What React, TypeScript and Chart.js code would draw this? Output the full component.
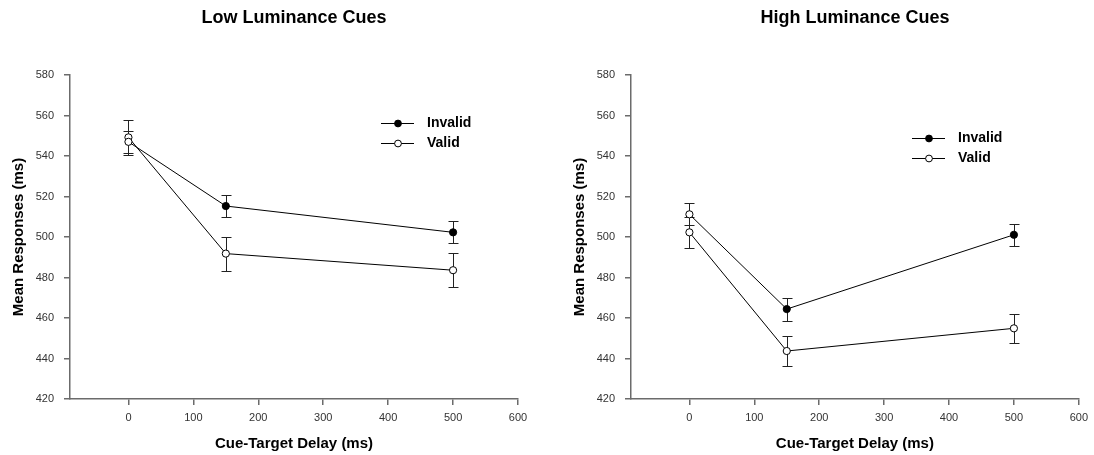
import React, { useEffect, useRef } from "react";
import { Chart, registerables } from "chart.js";

Chart.register(...registerables);

const delays = [0, 150, 500];
const xTickValues = [0, 100, 200, 300, 400, 500, 600];
const seriesNames = ["Invalid", "Valid"];

const lowInvalid = [547.0, 515.3, 502.3];
const lowInvalidErr = [5.5, 5.4, 5.4];
const lowValid = [549.2, 491.8, 483.6];
const lowValidErr = [8.8, 8.4, 8.5];

const highInvalid = [511.2, 464.4, 501.1];
const highInvalidErr = [5.5, 5.7, 5.5];
const highValid = [502.3, 443.7, 454.9];
const highValidErr = [7.5, 7.2, 7.3];

const FONT = "'Liberation Sans', Arial, Helvetica, sans-serif";
const AXIS_COLOR = "#6b6b6b";
const TICK_COLOR = "#333333";

const errorBarPlugin = {
  id: "errorBars",
  beforeDatasetsDraw(chart: any) {
    const ctx = chart.ctx;
    const xs = chart.scales.x;
    const ys = chart.scales.y;
    ctx.save();
    ctx.strokeStyle = "#222";
    ctx.lineWidth = 1;
    chart.data.datasets.forEach((ds: any) => {
      const errs: number[] = ds.errors || [];
      ds.data.forEach((pt: any, i: number) => {
        const e = errs[i];
        if (e == null) return;
        const px = Math.round(xs.getPixelForValue(pt.x)) + 0.5;
        const yTop = Math.round(ys.getPixelForValue(pt.y + e)) + 0.5;
        const yBot = Math.round(ys.getPixelForValue(pt.y - e)) + 0.5;
        ctx.beginPath();
        ctx.moveTo(px, yTop);
        ctx.lineTo(px, yBot);
        ctx.moveTo(px - 5, yTop);
        ctx.lineTo(px + 5, yTop);
        ctx.moveTo(px - 5, yBot);
        ctx.lineTo(px + 5, yBot);
        ctx.stroke();
      });
    });
    ctx.restore();
  },
};

const innerLegendPlugin = {
  id: "innerLegend",
  afterDatasetsDraw(chart: any, _args: any, opts: any) {
    const ctx = chart.ctx;
    const area = chart.chartArea;
    const x0 = area.left + opts.dx;
    const y0 = area.top + opts.dy;
    ctx.save();
    chart.data.datasets.forEach((ds: any, i: number) => {
      const y = Math.round(y0 + i * 20) + 0.5;
      ctx.strokeStyle = "#000";
      ctx.lineWidth = 1;
      ctx.beginPath();
      ctx.moveTo(x0, y);
      ctx.lineTo(x0 + 33, y);
      ctx.stroke();
      ctx.beginPath();
      ctx.arc(x0 + 17, y, 3.4, 0, Math.PI * 2);
      ctx.fillStyle = ds.legendFill;
      ctx.fill();
      ctx.stroke();
      ctx.fillStyle = "#000";
      ctx.font = `bold 14px ${FONT}`;
      ctx.textBaseline = "middle";
      ctx.textAlign = "left";
      ctx.fillText(ds.label, x0 + 46, y);
    });
    ctx.restore();
  },
};

const panelTitlePlugin = {
  id: "panelTitle",
  afterDraw(chart: any, _args: any, opts: any) {
    const ctx = chart.ctx;
    const area = chart.chartArea;
    ctx.save();
    ctx.fillStyle = "#000";
    ctx.font = `bold 18px ${FONT}`;
    ctx.textAlign = "center";
    ctx.textBaseline = "middle";
    ctx.fillText(opts.text, (area.left + area.right) / 2, 18);
    ctx.restore();
  },
};

function makeConfig(
  title: string,
  inv: number[],
  invErr: number[],
  val: number[],
  valErr: number[],
  padRight: number,
  legendDx: number,
  legendDy: number
): any {
  const toPts = (arr: number[]) => delays.map((d, i) => ({ x: d, y: arr[i] }));
  return {
    type: "line",
    data: {
      datasets: [
        {
          label: seriesNames[0],
          data: toPts(inv),
          errors: invErr,
          borderColor: "#000",
          borderWidth: 1,
          pointRadius: 3.6,
          pointBorderWidth: 1,
          pointBorderColor: "#000",
          pointBackgroundColor: ["#fff", "#000", "#000"],
          legendFill: "#000",
          tension: 0,
          fill: false,
        },
        {
          label: seriesNames[1],
          data: toPts(val),
          errors: valErr,
          borderColor: "#000",
          borderWidth: 1,
          pointRadius: 3.6,
          pointBorderWidth: 1,
          pointBorderColor: "#000",
          pointBackgroundColor: "#fff",
          legendFill: "#fff",
          tension: 0,
          fill: false,
        },
      ],
    },
    options: {
      responsive: false,
      animation: false,
      layout: { padding: { left: 0, right: padRight, top: 75, bottom: 0 } },
      plugins: {
        legend: { display: false },
        tooltip: { enabled: false },
        title: { display: false },
        panelTitle: { text: title },
        innerLegend: { dx: legendDx, dy: legendDy },
      },
      scales: {
        x: {
          type: "linear",
          min: -90,
          max: 600,
          afterBuildTicks: (scale: any) => {
            scale.ticks = xTickValues.map((v) => ({ value: v }));
          },
          afterFit: (scale: any) => {
            scale.height = 56;
          },
          grid: {
            drawOnChartArea: false,
            drawTicks: true,
            tickLength: 6,
            color: AXIS_COLOR,
            lineWidth: 1.5,
          },
          border: { display: true, color: AXIS_COLOR, width: 1.5 },
          ticks: {
            color: TICK_COLOR,
            font: { family: FONT, size: 11 },
            padding: 6,
            maxRotation: 0,
          },
          title: {
            display: true,
            text: "Cue-Target Delay (ms)",
            color: "#000",
            font: { family: FONT, size: 15, weight: "bold", lineHeight: 1.2 },
            padding: { top: 0, bottom: 2 },
          },
        },
        y: {
          type: "linear",
          min: 420,
          max: 580,
          afterFit: (scale: any) => {
            scale.width = 70;
          },
          grid: {
            drawOnChartArea: false,
            drawTicks: true,
            tickLength: 6,
            color: AXIS_COLOR,
            lineWidth: 1.5,
          },
          border: { display: true, color: AXIS_COLOR, width: 1.5 },
          ticks: {
            stepSize: 20,
            color: TICK_COLOR,
            font: { family: FONT, size: 11 },
            padding: 10,
          },
          title: {
            display: true,
            text: "Mean Responses (ms)",
            color: "#000",
            font: { family: FONT, size: 15, weight: "bold", lineHeight: 1.2 },
            padding: { top: 10, bottom: 0 },
          },
        },
      },
    },
    plugins: [errorBarPlugin, innerLegendPlugin, panelTitlePlugin],
  };
}

function Panel(props: { left: number; width: number; config: any }) {
  const ref = useRef<HTMLCanvasElement | null>(null);
  useEffect(() => {
    if (!ref.current) return;
    const chart = new Chart(ref.current, props.config);
    return () => chart.destroy();
  }, []);
  return (
    <div style={{ position: "absolute", left: props.left, top: 0, width: props.width, height: 455 }}>
      <canvas ref={ref} width={props.width} height={455} style={{ width: props.width, height: 455, display: "block" }} />
    </div>
  );
}

export default function App() {
  const lowCfg = makeConfig("Low Luminance Cues", lowInvalid, lowInvalidErr, lowValid, lowValidErr, 22, 311, 48);
  const highCfg = makeConfig("High Luminance Cues", highInvalid, highInvalidErr, highValid, highValidErr, 12, 281, 63);
  return (
    <div style={{ position: "fixed", left: 0, top: 0, width: 1094, height: 455, background: "#fff" }}>
      <Panel left={0} width={540} config={lowCfg} />
      <Panel left={561} width={533} config={highCfg} />
    </div>
  );
}
